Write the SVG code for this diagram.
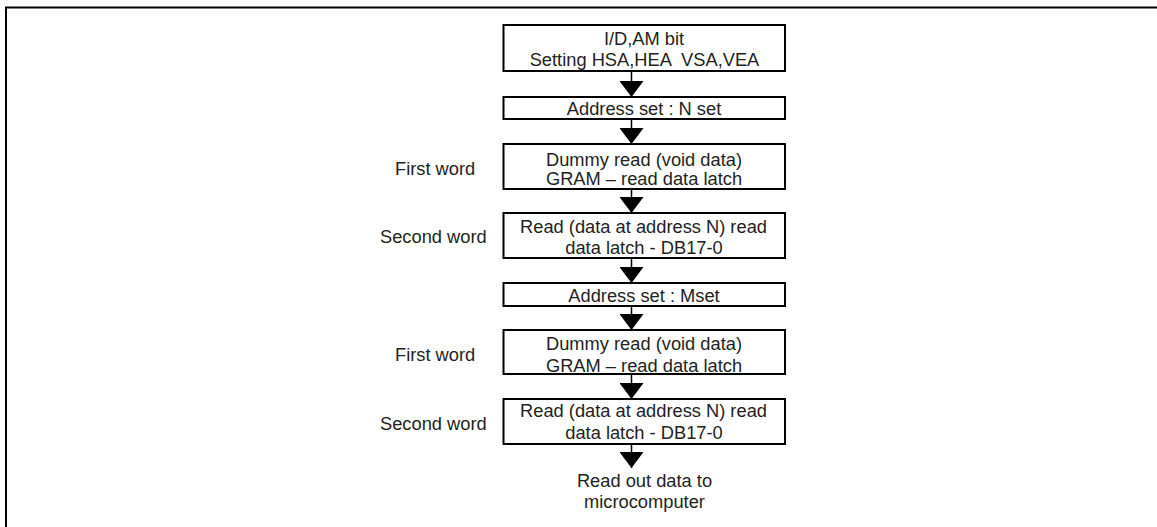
<svg xmlns="http://www.w3.org/2000/svg" width="1157" height="527" viewBox="0 0 1157 527">
<defs>
<style>
.box{fill:#fff;stroke:#000;stroke-width:2}
.t{font-family:"Liberation Sans",Arial,sans-serif;font-size:18.3px;fill:#231f20;text-anchor:middle;white-space:pre}
.l{font-family:"Liberation Sans",Arial,sans-serif;font-size:18.3px;fill:#231f20}
.c{stroke:#000;stroke-width:1.5;fill:none}
.h{fill:#000}
</style>
<marker id="ah" markerWidth="24" markerHeight="16" refX="12" refY="16" orient="0" markerUnits="userSpaceOnUse" viewBox="0 0 24 16"><path class="h" d="M0,0 L24,0 L12,16 Z"/></marker>
</defs>
<rect width="1157" height="527" fill="#fff"/>
<g id="frame"><path d="M6,527 V7.5 H1157" stroke="#000" stroke-width="2" fill="none"/></g>
<g id="connectors">
<line class="c" x1="631.5" y1="71" x2="631.5" y2="97" marker-end="url(#ah)"/>
<line class="c" x1="631.5" y1="119" x2="631.5" y2="144" marker-end="url(#ah)"/>
<line class="c" x1="631.5" y1="189" x2="631.5" y2="213" marker-end="url(#ah)"/>
<line class="c" x1="631.5" y1="258" x2="631.5" y2="283" marker-end="url(#ah)"/>
<line class="c" x1="631.5" y1="306" x2="631.5" y2="330" marker-end="url(#ah)"/>
<line class="c" x1="631.5" y1="374" x2="631.5" y2="399" marker-end="url(#ah)"/>
<line class="c" x1="631.5" y1="444" x2="631.5" y2="468" marker-end="url(#ah)"/>
</g>
<g id="n1"><rect class="box" x="503.5" y="25" width="281.5" height="46"/><text class="t" x="644" y="44.5">I/D,AM bit</text><text class="t" x="644.5" y="66" xml:space="preserve">Setting HSA,HEA  VSA,VEA</text></g>
<g id="n2"><rect class="box" x="503.5" y="97" width="281.5" height="22"/><text class="t" x="644" y="115">Address set : N set</text></g>
<g id="n3"><rect class="box" x="503.5" y="144" width="281.5" height="45"/><text class="t" x="644" y="165.5">Dummy read (void data)</text><text class="t" x="644" y="184.5">GRAM – read data latch</text></g>
<g id="n4"><rect class="box" x="503.5" y="213" width="281.5" height="45"/><text class="t" x="643.5" y="232.5">Read (data at address N) read</text><text class="t" x="644" y="254">data latch - DB17-0</text></g>
<g id="n5"><rect class="box" x="503.5" y="283" width="281.5" height="23"/><text class="t" x="644" y="301.5">Address set : Mset</text></g>
<g id="n6"><rect class="box" x="503.5" y="330" width="281.5" height="44"/><text class="t" x="644" y="350">Dummy read (void data)</text><text class="t" x="644" y="371.5">GRAM – read data latch</text></g>
<g id="n7"><rect class="box" x="503.5" y="399" width="281.5" height="45"/><text class="t" x="643.5" y="417">Read (data at address N) read</text><text class="t" x="644" y="439">data latch - DB17-0</text></g>
<g id="n8"><text class="t" x="644.5" y="486.5">Read out data to</text><text class="t" x="644.5" y="508">microcomputer</text></g>
<g id="labels">
<text class="l" x="395" y="175">First word</text>
<text class="l" x="380" y="242.5">Second word</text>
<text class="l" x="395" y="361">First word</text>
<text class="l" x="380" y="430">Second word</text>
</g>
</svg>
